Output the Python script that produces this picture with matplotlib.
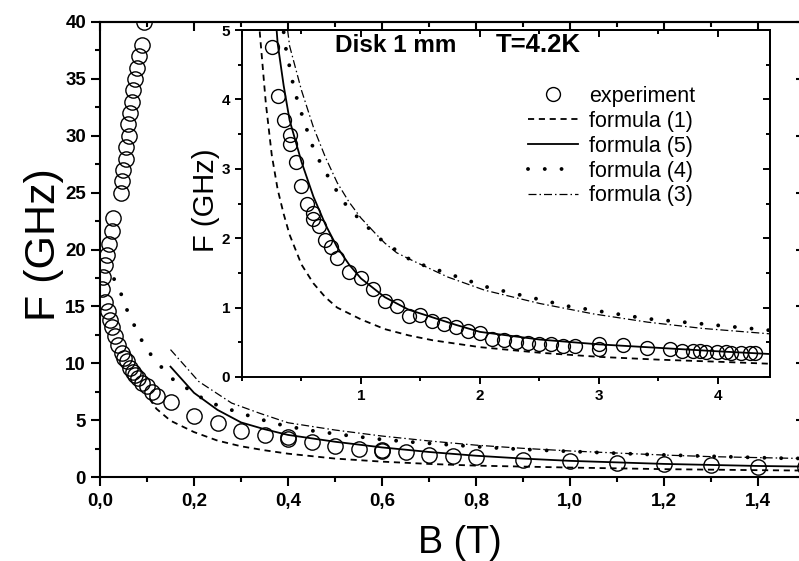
import matplotlib.pyplot as plt
from matplotlib.ticker import MultipleLocator, FuncFormatter
from matplotlib.lines import Line2D

plt.rcParams['font.family'] = ['Liberation Sans', 'DejaVu Sans']

# measured resonance frequency of the disk, F (GHz) vs B (T)
b_exp = [0.094, 0.089, 0.083, 0.079, 0.074, 0.070, 0.068, 0.064, 0.060, 0.062,
         0.055, 0.055, 0.049, 0.047, 0.045, 0.028, 0.026, 0.019, 0.015, 0.011,
         0.007, 0.005, 0.011, 0.017, 0.021, 0.026, 0.032, 0.038, 0.046, 0.052,
         0.057, 0.064, 0.070, 0.074, 0.081, 0.089, 0.100, 0.110, 0.121, 0.151,
         0.20, 0.25, 0.30, 0.35, 0.40, 0.40, 0.45, 0.50, 0.55, 0.60, 0.60,
         0.65, 0.70, 0.75, 0.80, 0.90, 1.00, 1.10, 1.20, 1.30, 1.40,
         1.50, 1.60, 1.70, 1.80, 1.90, 2.00, 2.10, 2.20, 2.30, 2.40,
         2.50, 2.60, 2.70, 2.80, 3.00, 3.00, 3.20, 3.40, 3.60, 3.70,
         3.79, 3.85, 3.90, 3.99, 4.07, 4.11, 4.19, 4.27, 4.31]
f_exp = [40.0, 38.0, 37.0, 36.0, 35.0, 34.0, 33.0, 32.0, 31.0, 30.0,
         29.0, 28.0, 27.0, 26.0, 25.0, 22.8, 21.6, 20.5, 19.5, 18.6,
         17.6, 16.5, 15.4, 14.6, 13.8, 13.2, 12.4, 11.6, 10.9, 10.5,
         10.2, 9.6, 9.2, 9.0, 8.7, 8.3, 8.0, 7.5, 7.1, 6.6,
         5.4, 4.75, 4.05, 3.7, 3.48, 3.36, 3.1, 2.75, 2.5, 2.36, 2.28,
         2.18, 1.97, 1.87, 1.72, 1.52, 1.42, 1.27, 1.10, 1.02, 0.88,
         0.90, 0.81, 0.76, 0.72, 0.67, 0.63, 0.55, 0.54, 0.50, 0.49,
         0.48, 0.47, 0.45, 0.45, 0.48, 0.41, 0.46, 0.42, 0.40, 0.38,
         0.375, 0.375, 0.36, 0.36, 0.36, 0.35, 0.35, 0.34, 0.34]

# formula (1)
b_f1 = [0.105, 0.12, 0.15, 0.20, 0.25, 0.30, 0.35, 0.40, 0.50, 0.60, 0.70,
        0.80, 1.00, 1.20, 1.40, 1.60, 2.00, 2.50, 3.00, 3.50, 4.00, 4.45]
f_f1 = [6.9, 6.0, 4.95, 3.95, 3.2, 2.7, 2.35, 2.05, 1.62, 1.35, 1.15,
        1.00, 0.83, 0.69, 0.60, 0.53, 0.43, 0.35, 0.29, 0.25, 0.22, 0.19]

# formula (5)
b_f5 = [0.15, 0.20, 0.25, 0.30, 0.35, 0.40, 0.50, 0.60, 0.70, 0.80, 0.90,
        1.00, 1.20, 1.40, 1.60, 1.80, 2.00, 2.50, 3.00, 3.50, 4.00, 4.45]
f_f5 = [9.7, 7.4, 5.9, 4.8, 4.2, 3.7, 3.1, 2.6, 2.2, 1.87, 1.62,
        1.42, 1.15, 0.97, 0.86, 0.75, 0.65, 0.54, 0.47, 0.42, 0.37, 0.33]

# formula (4)
b_f4 = [0.030, 0.047, 0.060, 0.077, 0.096, 0.123, 0.155, 0.196, 0.23, 0.30,
        0.37, 0.44, 0.52, 0.59, 0.66, 0.73, 0.80, 0.87, 0.95, 1.00, 1.16,
        1.30, 1.44, 1.63, 2.07, 2.74, 3.40, 3.84, 4.45]
f_f4 = [17.4, 15.9, 14.4, 13.0, 11.4, 10.0, 8.6, 7.5, 6.6, 5.6,
        4.72, 4.13, 3.69, 3.34, 3.08, 2.87, 2.67, 2.49, 2.34, 2.25, 1.99,
        1.82, 1.66, 1.55, 1.29, 1.02, 0.84, 0.77, 0.67]

# formula (3)
b_f3 = [0.15, 0.21, 0.28, 0.34, 0.40, 0.50, 0.60, 0.70, 0.80, 0.90, 1.00,
        1.12, 1.20, 1.30, 1.43, 1.73, 2.04, 2.50, 2.95, 3.41, 3.87, 4.45]
f_f3 = [11.2, 8.4, 6.5, 5.6, 4.77, 4.13, 3.6, 3.17, 2.8, 2.52, 2.29,
        2.07, 1.93, 1.79, 1.68, 1.44, 1.25, 1.06, 0.91, 0.79, 0.70, 0.62]

lbl_exp = 'experiment'
lbl_f1 = 'formula (1)'
lbl_f5 = 'formula (5)'
lbl_f4 = 'formula (4)'
lbl_f3 = 'formula (3)'

W, H = 799, 561


def px_box(left, top, right, bottom):
    return [left / W, 1 - bottom / H, (right - left) / W, (bottom - top) / H]


def draw_curves(ax, ms):
    ax.plot(b_f1, f_f1, color='k', lw=1.3, dashes=(3.4, 2.6))
    ax.plot(b_f5, f_f5, color='k', lw=1.3)
    ax.plot(b_f4, f_f4, color='k', lw=2.8, dashes=(0.01, 4.3),
            dash_capstyle='round')
    ax.plot(b_f3, f_f3, color='k', lw=0.9, dashes=(6.4, 2.4, 1.2, 2.4))
    ax.plot(b_exp, f_exp, ls='none', marker='o', ms=ms, mfc='none',
            mec='k', mew=1.0)


def style_frame(ax, xmaj, xmin, ymaj, ymin, major_len, minor_len, lw):
    for sp in ax.spines.values():
        sp.set_linewidth(lw)
    ax.xaxis.set_minor_locator(MultipleLocator(xmin))
    ax.yaxis.set_minor_locator(MultipleLocator(ymin))
    ax.tick_params(which='major', direction='out', length=major_len,
                   width=lw, color='k')
    ax.tick_params(which='minor', direction='out', length=minor_len,
                   width=lw, color='k')
    # mirrored ticks pointing inwards on the top and right frames
    top = ax.secondary_xaxis('top')
    top.xaxis.set_major_locator(MultipleLocator(xmaj))
    top.xaxis.set_minor_locator(MultipleLocator(xmin))
    top.tick_params(which='major', direction='in', length=major_len,
                    width=lw, labeltop=False)
    top.tick_params(which='minor', direction='in', length=minor_len,
                    width=lw)
    top.spines['top'].set_linewidth(lw)
    right = ax.secondary_yaxis('right')
    right.yaxis.set_major_locator(MultipleLocator(ymaj))
    right.yaxis.set_minor_locator(MultipleLocator(ymin))
    right.tick_params(which='major', direction='in', length=major_len,
                      width=lw, labelright=False)
    right.tick_params(which='minor', direction='in', length=minor_len,
                      width=lw)
    right.spines['right'].set_linewidth(lw)


fig = plt.figure(figsize=(W / 100, H / 100), dpi=100)

# main panel
ax = fig.add_axes(px_box(100, 22, 805, 477))
draw_curves(ax, 11)
ax.set_xlim(0, 1.5)
ax.set_ylim(0, 40)
ax.xaxis.set_major_locator(MultipleLocator(0.2))
ax.yaxis.set_major_locator(MultipleLocator(5))
ax.xaxis.set_major_formatter(FuncFormatter(lambda v, p: f'{v:.1f}'.replace('.', ',')))
style_frame(ax, 0.2, 0.1, 5, 2.5, 6.5, 3.5, 1.5)
for t in ax.get_xticklabels() + ax.get_yticklabels():
    t.set_fontsize(13.5)
    t.set_fontweight('bold')
ax.tick_params(axis='x', pad=5)
ax.set_xlabel('B (T)', fontsize=27, va='center')
ax.set_ylabel('F (GHz)', fontsize=31, va='center')
ax.xaxis.set_label_coords(0.51, -0.146)
ax.yaxis.set_label_coords(-0.08, 0.51)

# inset with the full field range
ins = fig.add_axes(px_box(242, 30, 770, 377))
ins.set_facecolor('white')
draw_curves(ins, 10)
ins.set_xlim(0, 4.437)
ins.set_ylim(0, 5)
ins.set_xticks([1, 2, 3, 4])
ins.yaxis.set_major_locator(MultipleLocator(1))
style_frame(ins, 1, 0.5, 1, 0.5, 5, 3, 1.4)
for t in ins.get_xticklabels() + ins.get_yticklabels():
    t.set_fontsize(11)
    t.set_fontweight('bold')
ins.set_ylabel('F (GHz)', fontsize=21, va='center')
ins.yaxis.set_label_coords(-0.069, 0.51)

fig.text(335 / W, 1 - 45 / H, 'Disk 1 mm', fontsize=17.5, fontweight='bold',
         va='center', ha='left')
fig.text(496 / W, 1 - 45 / H, 'T=4.2K', fontsize=18.5, fontweight='bold',
         va='center', ha='left')

handles = [
    Line2D([], [], ls='none', marker='o', ms=10, mfc='none', mec='k', mew=1.0),
    Line2D([], [], color='k', lw=1.3, dashes=(3.4, 2.6)),
    Line2D([], [], color='k', lw=1.3),
    Line2D([], [], color='k', lw=2.8, dashes=(0.01, 4.3), dash_capstyle='round'),
    Line2D([], [], color='k', lw=0.9, dashes=(6.4, 2.4, 1.2, 2.4)),
]
ins.legend(handles, [lbl_exp, lbl_f1, lbl_f5, lbl_f4, lbl_f3],
           loc='upper left', bbox_to_anchor=(528 / W, 1 - 86 / H),
           bbox_transform=fig.transFigure, frameon=False, fontsize=15.5,
           handlelength=2.3, handletextpad=0.55, labelspacing=0.18,
           borderpad=0, borderaxespad=0)

fig.savefig('out.png', dpi=100)
